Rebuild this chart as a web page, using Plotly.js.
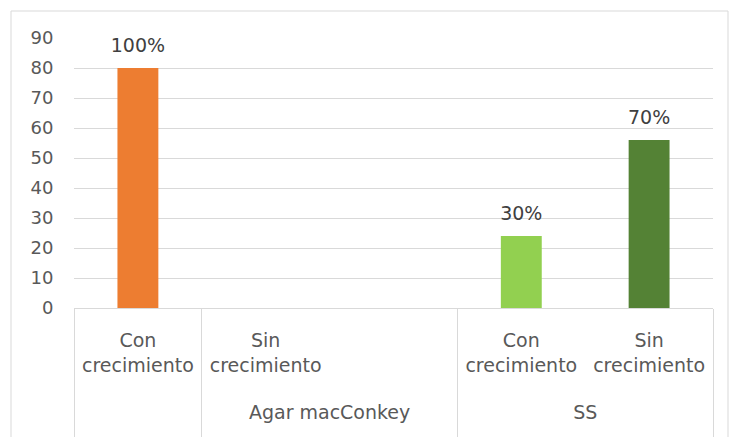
<!DOCTYPE html>
<html>
<head>
<meta charset="utf-8">
<script src="https://cdn.plot.ly/plotly-3.0.1.min.js"></script>
<style>
  html, body { margin: 0; padding: 0; background: #ffffff; }
  #chart { width: 730px; height: 437px; }
</style>
</head>
<body>
<div id="chart"></div>
<script>
// Data
const groupLabels = [" ", "Agar macConkey", "Agar macConkey", "SS", "SS"];
const subLabels = ["Con crecimiento", "Sin crecimiento", " ", "Con crecimiento", "Sin crecimiento"];
const values = [80, 0, 0, 24, 56];
const valueLabels = ["100%", "", "", "30%", "70%"];
const barColors = ["#ED7D31", "#ED7D31", "#ED7D31", "#92D050", "#548235"];
const yTicks = [0, 10, 20, 30, 40, 50, 60, 70, 80, 90];

const fontFamily = "DejaVu Sans, Open Sans, sans-serif";

// axis label text: wrap sub labels on two lines, add spacer line below
const spacer = "<br><span style='font-size:73px'>&nbsp;</span>";
const subText = subLabels.map(s => s.trim() ? s.replace(" ", "<br>") + spacer : s);
const groupText = groupLabels.map(g => g + "<br>&nbsp;");

const bars = {
  type: "bar",
  x: [groupText, subText],
  y: values,
  marker: { color: barColors },
  hoverinfo: "skip"
};

const labels = {
  type: "scatter",
  mode: "markers+text",
  x: [groupText, subText],
  y: values,
  text: valueLabels,
  textposition: "top center",
  cliponaxis: false,
  marker: { size: 16, color: "rgba(0,0,0,0)" },
  textfont: { family: fontFamily, size: 19, color: "#404040" },
  hoverinfo: "skip"
};

const L = 74, R = 713, T = 38, B = 308, W = 730, H = 437;
const pw = R - L, ph = B - T;
const px = v => (v - L) / pw;
const py = v => (B - v) / ph;

const layout = {
  width: W,
  height: H,
  margin: { l: L, r: W - R, t: T, b: H - B, pad: 0 },
  paper_bgcolor: "#ffffff",
  plot_bgcolor: "#ffffff",
  showlegend: false,
  bargap: 0.68,
  font: { family: fontFamily, size: 18, color: "#595959" },
  xaxis: {
    type: "multicategory",
    showline: true,
    linecolor: "#D9D9D9",
    linewidth: 1,
    showgrid: false,
    ticks: "",
    ticklabelstandoff: 15,
    showdividers: true,
    dividercolor: "#D9D9D9",
    dividerwidth: 1,
    tickfont: { family: fontFamily, size: 19, color: "#595959" },
    fixedrange: true
  },
  yaxis: {
    range: [0, 90],
    tickvals: yTicks,
    ticktext: yTicks.map(String),
    showgrid: true,
    gridcolor: "#D9D9D9",
    gridwidth: 1,
    zeroline: false,
    showline: false,
    ticks: "outside",
    ticklen: 16,
    tickcolor: "rgba(0,0,0,0)",
    tickfont: { family: fontFamily, size: 18, color: "#595959" },
    fixedrange: true
  },
  shapes: [
    {
      type: "rect", xref: "paper", yref: "paper",
      x0: px(11), x1: px(728), y0: py(460), y1: py(11),
      line: { color: "#D9D9D9", width: 1 }, fillcolor: "rgba(0,0,0,0)", layer: "below"
    }
  ]
};

Plotly.newPlot("chart", [bars, labels], layout, { displayModeBar: false, staticPlot: true });
</script>
</body>
</html>
